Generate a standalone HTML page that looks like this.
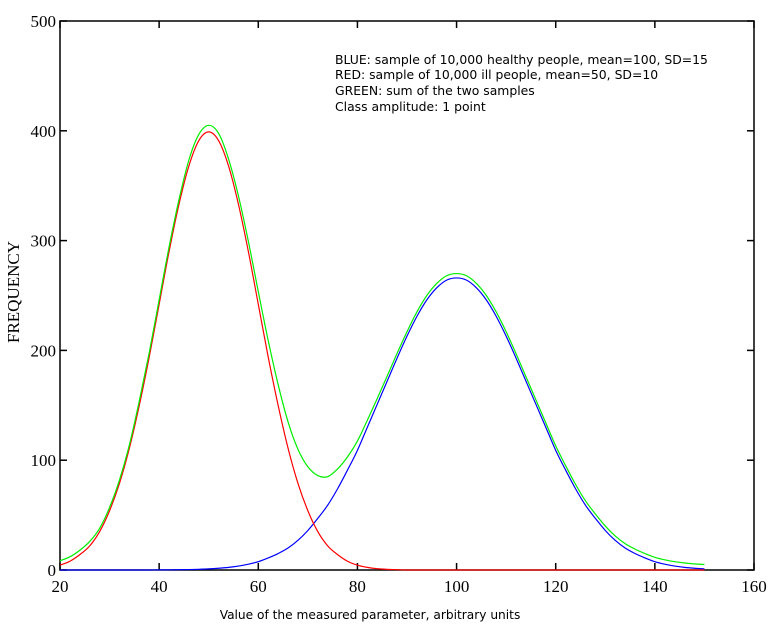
<!DOCTYPE html>
<html><head><meta charset="utf-8"><style>
html,body{margin:0;padding:0;background:#fff;}
svg{display:block;}
</style></head><body>
<svg id="chart" width="776" height="644" viewBox="0 0 776 644" xmlns="http://www.w3.org/2000/svg">
<rect x="0" y="0" width="776" height="644" fill="#fff"/>
<g id="axes"></g>
<g id="series"></g>
<g font-family="DejaVu Sans, Liberation Sans, sans-serif" font-size="12.4" fill="#000">
<text x="335" y="64">BLUE: sample of 10,000 healthy people, mean=100, SD=15</text>
<text x="335" y="79">RED: sample of 10,000 ill people, mean=50, SD=10</text>
<text x="335" y="95">GREEN: sum of the two samples</text>
<text x="335" y="111">Class amplitude: 1 point</text>
</g>
<text x="370" y="619" text-anchor="middle" font-family="DejaVu Sans, Liberation Sans, sans-serif" font-size="12.2">Value of the measured parameter, arbitrary units</text>
<text transform="translate(19,292) rotate(-90)" text-anchor="middle" font-family="Liberation Serif, serif" font-size="17">FREQUENCY</text>
</svg>
<script>
const xValues = [20,22,24,26,28,30,32,34,36,38,40,42,44,46,48,50,52,54,56,58,60,62,64,66,68,70,72,74,76,78,80,82,84,86,88,90,92,94,96,98,100,102,104,106,108,110,112,114,116,118,120,122,124,126,128,130,132,134,136,138,140,142,144,146,148,150];
const redValues = [4.4,8,14,22,35,54,79,111,150,194,242,290,333,368,391,399,391,368,333,290,242,194,150,111,79,54,35,22,14,8,4.4,2.4,1.2,0.6,0.3,0,0,0,0,0,0,0,0,0,0,0,0,0,0,0,0,0,0,0,0,0,0,0,0,0,0,0,0,0,0,0];
const blueValues = [0,0,0,0,0,0,0,0,0,0,0.1,0.16,0.26,0.4,0.65,1.0,1.6,2.4,3.6,5.3,7.6,11,15,20,27,36,47,59,74,91,109,130,151,172,193,213,231,246,257,264,266,264,257,246,231,213,193,172,151,130,109,91,74,59,47,36,27,20,15,11,7.6,5.3,3.6,2.4,1.6,1.0];
const greenExtra = [4,4,4,4,3,3,3,3,4,4,4,4,4,5,5,5,5,4,4,4,4,4,4,4,4,4,4,4,4,4,4,4,4,4,4,4,4,4,4,4,4,4,4,4,4,4,4,4,4,4,4,4,4,4,4,4,4,4,4,4,4,4,4,4,4,4];
const xTicks = [20,40,60,80,100,120,140,160];
const yTicks = [0,100,200,300,400,500];

const X0=60,X1=754,Y0=570,Y1=21;
const xs = v => X0 + (v-20)/(160-20)*(X1-X0);
const ys = v => Y0 - v/500*(Y0-Y1);
const NS="http://www.w3.org/2000/svg";
const axes=document.getElementById('axes');
const series=document.getElementById('series');
function mk(tag,attrs,parent){const e=document.createElementNS(NS,tag);for(const k in attrs)e.setAttribute(k,attrs[k]);parent.appendChild(e);return e;}

const frame=mk('rect',{x:X0,y:Y1,width:X1-X0,height:Y0-Y1,fill:'none',stroke:'#000','stroke-width':1.5},axes);


xTicks.forEach(t=>{
  const x=xs(t);
  const a=mk('line',{x1:x,y1:Y0,x2:x,y2:Y0-7,stroke:'#000','stroke-width':1.5},axes);
  
  
  const b=mk('line',{x1:x,y1:Y1,x2:x,y2:Y1+7,stroke:'#000','stroke-width':1.5},axes);
  
  
  const l=mk('text',{x:x,y:Y0+22,'text-anchor':'middle','font-family':'Liberation Serif, serif','font-size':17},axes);
  l.textContent=t;
  
  
});
yTicks.forEach(t=>{
  const y=ys(t);
  const a=mk('line',{x1:X0,y1:y,x2:X0+7,y2:y,stroke:'#000','stroke-width':1.5},axes);
  
  
  const b=mk('line',{x1:X1,y1:y,x2:X1-7,y2:y,stroke:'#000','stroke-width':1.5},axes);
  
  
  const l=mk('text',{x:X0-4,y:y+6,'text-anchor':'end','font-family':'Liberation Serif, serif','font-size':17},axes);
  l.textContent=t;
  
  
});
function line(vals,color,name){
  const pts=vals.map((v,i)=>[xs(xValues[i]),ys(v)]);
  let d='M'+pts[0][0].toFixed(2)+' '+pts[0][1].toFixed(2);
  for(let i=0;i<pts.length-1;i++){
    const p0=pts[Math.max(0,i-1)],p1=pts[i],p2=pts[i+1],p3=pts[Math.min(pts.length-1,i+2)];
    const c1=[p1[0]+(p2[0]-p0[0])/6,p1[1]+(p2[1]-p0[1])/6];
    const c2=[p2[0]-(p3[0]-p1[0])/6,p2[1]-(p3[1]-p1[1])/6];
    d+=' C'+c1[0].toFixed(2)+' '+c1[1].toFixed(2)+' '+c2[0].toFixed(2)+' '+c2[1].toFixed(2)+' '+p2[0].toFixed(2)+' '+p2[1].toFixed(2);
  }
  const p=mk('path',{d:d,fill:'none',stroke:color,'stroke-width':1.2},series);
  
  
}
const greenValues = redValues.map((r,i)=>r+blueValues[i]+greenExtra[i]);
line(blueValues,'#0000ff','blue-healthy-curve');
line(redValues,'#ff0000','red-ill-curve');
line(greenValues,'#00ee00','green-sum-curve');
</script>
</body></html>
